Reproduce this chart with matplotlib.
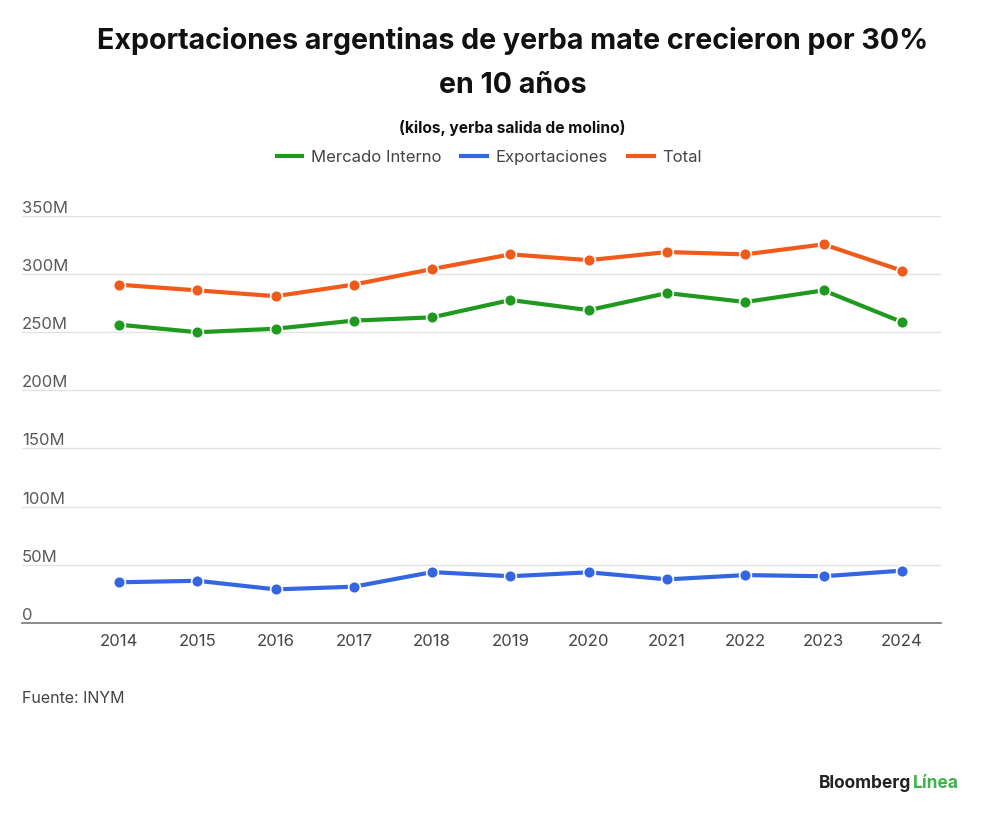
import matplotlib
matplotlib.use("Agg")
import matplotlib.pyplot as plt
from matplotlib.lines import Line2D

years = [2014, 2015, 2016, 2017, 2018, 2019, 2020, 2021, 2022, 2023, 2024]
mercado_interno = [256.5, 250.0, 253.0, 260.0, 262.8, 277.7, 269.0, 283.7, 276.0, 286.0, 258.8]
exportaciones = [34.8, 36.1, 28.7, 31.0, 43.6, 40.0, 43.4, 37.3, 41.0, 40.0, 44.8]
total = [290.9, 286.0, 281.0, 291.0, 304.4, 317.0, 312.0, 319.0, 317.0, 325.6, 303.0]
series_names = ["Mercado Interno", "Exportaciones", "Total"]
colors = ["#1f9a1f", "#3366e0", "#f05a1a"]
yticks = [0, 50, 100, 150, 200, 250, 300, 350]
ytick_labels = ["0", "50M", "100M", "150M", "200M", "250M", "300M", "350M"]

plt.rcParams['font.family'] = ['Inter', 'DejaVu Sans']

fig = plt.figure(figsize=(10, 8.27), dpi=100)
ax = fig.add_axes([0.022, 0.247, 0.919, 0.4918])

for vals, c in zip([mercado_interno, exportaciones, total], colors):
    ax.plot(years, vals, color=c, lw=3, marker='o', ms=8.5,
            markeredgecolor='white', markeredgewidth=1.2, zorder=3, clip_on=False)

ax.set_xlim(2014 - 1.24, 2024 + 0.5)
ax.set_ylim(0, 350)
ax.set_yticks(yticks)
ax.set_yticklabels([])
ax.tick_params(axis='y', length=0)
ax.grid(axis='y', color='#e3e3e3', lw=1)
ax.set_axisbelow(True)
for s in ['top', 'right', 'left']:
    ax.spines[s].set_visible(False)
ax.spines['bottom'].set_color('#777777')
ax.spines['bottom'].set_linewidth(1.2)
ax.set_xticks(years)
ax.set_xticklabels([str(y) for y in years], fontsize=12, color='#444444')
ax.tick_params(axis='x', length=0, pad=8)

for v, lab in zip(yticks, ytick_labels):
    ax.text(0.0, v, lab, transform=ax.get_yaxis_transform(), ha='left', va='bottom',
            fontsize=12, color='#5a5a5a')

fig.text(0.513, 0.951, "Exportaciones argentinas de yerba mate crecieron por 30%",
         ha='center', va='center', fontsize=20.6, fontweight='bold', color='#111111')
fig.text(0.513, 0.897, "en 10 años", ha='center', va='center', fontsize=20.6,
         fontweight='bold', color='#111111')
fig.text(0.512, 0.845, "(kilos, yerba salida de molino)", ha='center', va='center',
         fontsize=11.2, fontweight='bold', color='#111111')

handles = [Line2D([0], [0], color=c, lw=3) for c in colors]
fig.legend(handles, series_names, loc='center', bbox_to_anchor=(0.489, 0.81), ncol=3,
           frameon=False, fontsize=12, handlelength=1.55, handletextpad=0.5,
           columnspacing=1.2, labelcolor='#444444')

fig.text(0.022, 0.155, "Fuente: INYM", ha='left', va='center', fontsize=11.5, color='#444444')
fig.text(0.911, 0.053, "Bloomberg", ha='right', va='center', fontsize=12.5,
         fontweight='bold', color='#222222')
fig.text(0.913, 0.053, "Línea", ha='left', va='center', fontsize=12.5,
         fontweight='bold', color='#3cb44b')

fig.savefig("out.png", dpi=100, facecolor='white')
